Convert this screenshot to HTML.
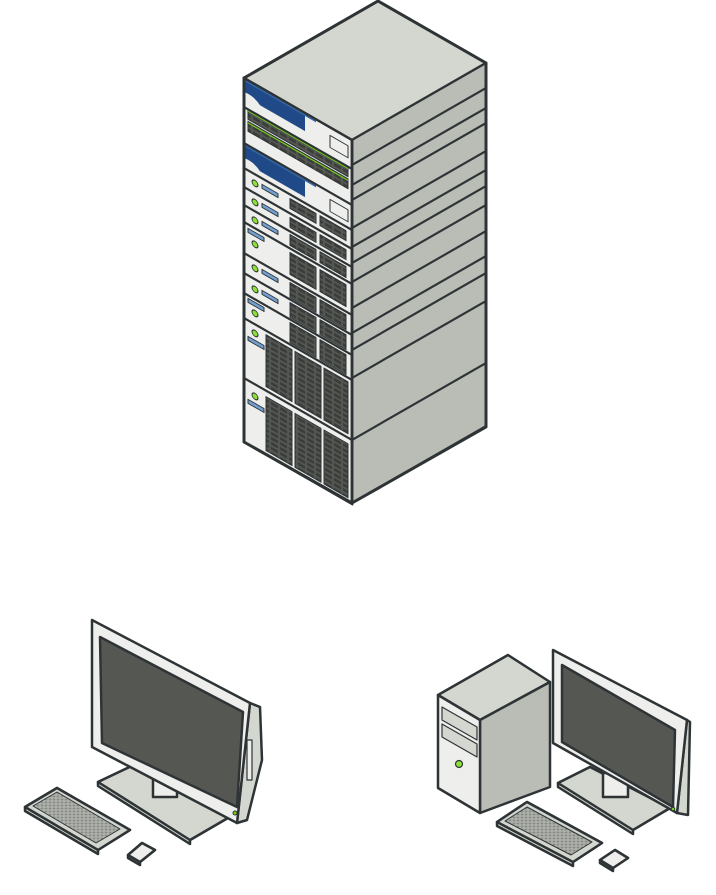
<!DOCTYPE html>
<html><head><meta charset="utf-8"><style>html,body{margin:0;padding:0;background:#fff}svg{display:block}</style></head><body>
<svg width="716" height="895" viewBox="0 0 716 895" xmlns="http://www.w3.org/2000/svg" stroke="#2e3436" stroke-linejoin="round" stroke-width="2.5">
<defs>
<pattern id="bay" width="9" height="5" patternUnits="userSpaceOnUse"><rect width="9" height="5" fill="#555753" stroke="none"/><rect x="1" y="1" width="7" height="3" fill="#3a3d3a" stroke="none"/></pattern>
<pattern id="keys" width="4" height="3" patternUnits="userSpaceOnUse"><rect width="4" height="3" fill="#babdb6" stroke="none"/><rect x="0.5" y="0.5" width="3" height="2" fill="#888a85" stroke="none"/></pattern>
</defs>
<polygon points="378,1 244,78 352,140 486,63" fill="#d3d7cf"/>
<g transform="matrix(1,-0.574,0,1,0,202)">
<rect x="352" y="140" width="134" height="363" fill="#babdb6"/>
<g fill="none">
<line x1="352" y1="165" x2="486" y2="165"/><line x1="352" y1="185" x2="486" y2="185"/><line x1="352" y1="200" x2="486" y2="200"/><line x1="352" y1="228" x2="486" y2="228"/><line x1="352" y1="247" x2="486" y2="247"/><line x1="352" y1="263" x2="486" y2="263"/><line x1="352" y1="282" x2="486" y2="282"/><line x1="352" y1="308" x2="486" y2="308"/><line x1="352" y1="333" x2="486" y2="333"/><line x1="352" y1="350" x2="486" y2="350"/><line x1="352" y1="378" x2="486" y2="378"/><line x1="352" y1="440" x2="486" y2="440"/>
</g></g>
<g transform="matrix(1,0.574,0,1,0,-140)">
<rect x="244" y="78" width="108" height="364" fill="#eeeeec"/>
<path d="M244,80 L305,80 L305,96 L260,96 Q254,90 244,92 Z" fill="#204a87" stroke="none"/>
<rect x="244" y="78" width="72" height="3" fill="#3465a4" stroke="none"/>
<rect x="248" y="107" width="100" height="10" fill="url(#bay)" stroke-width="1"/>
<rect x="248" y="119" width="100" height="10" fill="url(#bay)" stroke-width="1"/>
<g fill="#73d216" stroke="none"><rect x="248" y="108" width="100" height="1.2"/><rect x="248" y="120" width="100" height="1.2"/></g>
<rect x="330" y="86" width="18" height="12" fill="#eeeeec" stroke-width="1"/>
<path d="M244,145 L305,145 L305,162 L260,162 Q254,156 244,158 Z" fill="#204a87" stroke="none"/>
<rect x="244" y="143" width="72" height="3" fill="#3465a4" stroke="none"/>
<rect x="330" y="150" width="18" height="12" fill="#eeeeec" stroke-width="1"/>
<g fill="none"><line x1="244" y1="107" x2="352" y2="107"/><line x1="244" y1="143" x2="352" y2="143"/><line x1="244" y1="168" x2="352" y2="168"/><line x1="244" y1="187" x2="352" y2="187"/><line x1="244" y1="205" x2="352" y2="205"/><line x1="244" y1="222" x2="352" y2="222"/><line x1="244" y1="253" x2="352" y2="253"/><line x1="244" y1="273" x2="352" y2="273"/><line x1="244" y1="293" x2="352" y2="293"/><line x1="244" y1="318" x2="352" y2="318"/><line x1="244" y1="378" x2="352" y2="378"/></g>
<g stroke-width="1">
<circle cx="255" cy="177" r="3" fill="#8ae234"/><rect x="262" y="174" width="16" height="4" fill="#729fcf"/><rect x="290" y="172" width="26" height="10" fill="url(#bay)"/><rect x="320" y="172" width="26" height="10" fill="url(#bay)"/>
<circle cx="255" cy="196" r="3" fill="#8ae234"/><rect x="262" y="193" width="16" height="4" fill="#729fcf"/><rect x="290" y="191" width="26" height="10" fill="url(#bay)"/><rect x="320" y="191" width="26" height="10" fill="url(#bay)"/>
<circle cx="255" cy="214" r="3" fill="#8ae234"/><rect x="262" y="211" width="16" height="4" fill="#729fcf"/><rect x="290" y="208" width="26" height="11" fill="url(#bay)"/><rect x="320" y="208" width="26" height="11" fill="url(#bay)"/>
<rect x="248" y="226" width="16" height="4" fill="#729fcf"/><circle cx="255" cy="238" r="3" fill="#8ae234"/><rect x="290" y="226" width="26" height="22" fill="url(#bay)"/><rect x="320" y="226" width="26" height="22" fill="url(#bay)"/>
<circle cx="255" cy="262" r="3" fill="#8ae234"/><rect x="262" y="259" width="16" height="4" fill="#729fcf"/><rect x="290" y="256" width="26" height="15" fill="url(#bay)"/><rect x="320" y="256" width="26" height="15" fill="url(#bay)"/>
<circle cx="255" cy="283" r="3" fill="#8ae234"/><rect x="262" y="280" width="16" height="4" fill="#729fcf"/><rect x="290" y="276" width="26" height="15" fill="url(#bay)"/><rect x="320" y="276" width="26" height="15" fill="url(#bay)"/>
<rect x="248" y="296" width="16" height="4" fill="#729fcf"/><circle cx="255" cy="307" r="3" fill="#8ae234"/><rect x="290" y="296" width="26" height="20" fill="url(#bay)"/><rect x="320" y="296" width="26" height="20" fill="url(#bay)"/>
<circle cx="255" cy="327" r="3" fill="#8ae234"/><rect x="248" y="334" width="16" height="4" fill="#729fcf"/>
<rect x="266" y="322" width="26" height="52" fill="url(#bay)"/><rect x="295" y="322" width="26" height="52" fill="url(#bay)"/><rect x="324" y="322" width="24" height="52" fill="url(#bay)"/>
<circle cx="255" cy="390" r="3" fill="#8ae234"/><rect x="248" y="397" width="16" height="4" fill="#729fcf"/>
<rect x="266" y="384" width="26" height="54" fill="url(#bay)"/><rect x="295" y="384" width="26" height="54" fill="url(#bay)"/><rect x="324" y="384" width="24" height="54" fill="url(#bay)"/>
</g>
<rect x="244" y="78" width="108" height="364" fill="none"/>
</g>
<polygon points="378,1 244,78 244,442 352,503 486,427 486,63" fill="none" stroke-width="3"/>
<line x1="352" y1="140" x2="352" y2="503"/>

<polygon points="98,782 140,762 233,815 190,840 190,844 98,786" fill="#d3d7cf"/>
<polygon points="98,782 140,762 233,815 190,840" fill="#d3d7cf"/>
<polygon points="153,770 177,770 177,797 153,797" fill="#eeeeec"/>
<polygon points="250,703 260,707 262,760 247,820 237,823" fill="#d3d7cf"/>
<polygon points="92,620 250,703 237,823 92,747" fill="#eeeeec"/>
<polygon points="100,637 243,712 237,807 102,743" fill="#555753"/>
<rect x="247" y="740" width="5" height="40" fill="#eeeeec" stroke-width="1.2"/>
<circle cx="235" cy="813" r="2" fill="#73d216" stroke-width="1"/>
<polygon points="25,807 57,788 130,830 98,850 98,854 25,811" fill="#d3d7cf"/>
<polygon points="25,807 57,788 130,830 98,850" fill="#d3d7cf"/>
<polygon points="33,806 57,792 120,829 96,843" fill="url(#keys)" stroke-width="1"/>
<polygon points="128,855 142,843 155,850 140,862 140,865 128,858" fill="#d3d7cf"/>
<polygon points="128,855 142,843 155,850 140,862" fill="#eeeeec"/>

<polygon points="438,695 508,655 550,682 480,720" fill="#d3d7cf"/>
<polygon points="480,720 550,682 550,787 480,813" fill="#babdb6"/>
<polygon points="438,695 480,720 480,813 438,788" fill="#eeeeec"/>
<polygon points="442,707 477,727 477,740 442,720" fill="#d3d7cf" stroke-width="1.2"/>
<polygon points="442,724 477,744 477,757 442,737" fill="#d3d7cf" stroke-width="1.2"/>
<circle cx="459" cy="764" r="3.5" fill="#8ae234" stroke-width="1.2"/>
<polygon points="558,783 590,767 670,808 633,830 633,834 558,787" fill="#d3d7cf"/>
<polygon points="558,783 590,767 670,808 633,830" fill="#d3d7cf"/>
<polygon points="603,773 628,773 628,797 603,797" fill="#eeeeec"/>
<polygon points="687,720 690,722 688,815 677,813" fill="#d3d7cf"/>
<polygon points="553,650 687,720 677,813 553,743" fill="#eeeeec"/>
<polygon points="562,665 675,730 673,807 562,742" fill="#555753"/>
<circle cx="673" cy="809" r="1.8" fill="#73d216" stroke-width="1"/>
<polygon points="497,822 527,802 602,843 573,862 573,866 497,826" fill="#d3d7cf"/>
<polygon points="497,822 527,802 602,843 573,862" fill="#d3d7cf"/>
<polygon points="505,821 527,807 592,842 571,855" fill="url(#keys)" stroke-width="1"/>
<polygon points="600,860 615,850 628,858 613,868 613,871 600,863" fill="#d3d7cf"/>
<polygon points="600,860 615,850 628,858 613,868" fill="#eeeeec"/>
</svg>
</body></html>
